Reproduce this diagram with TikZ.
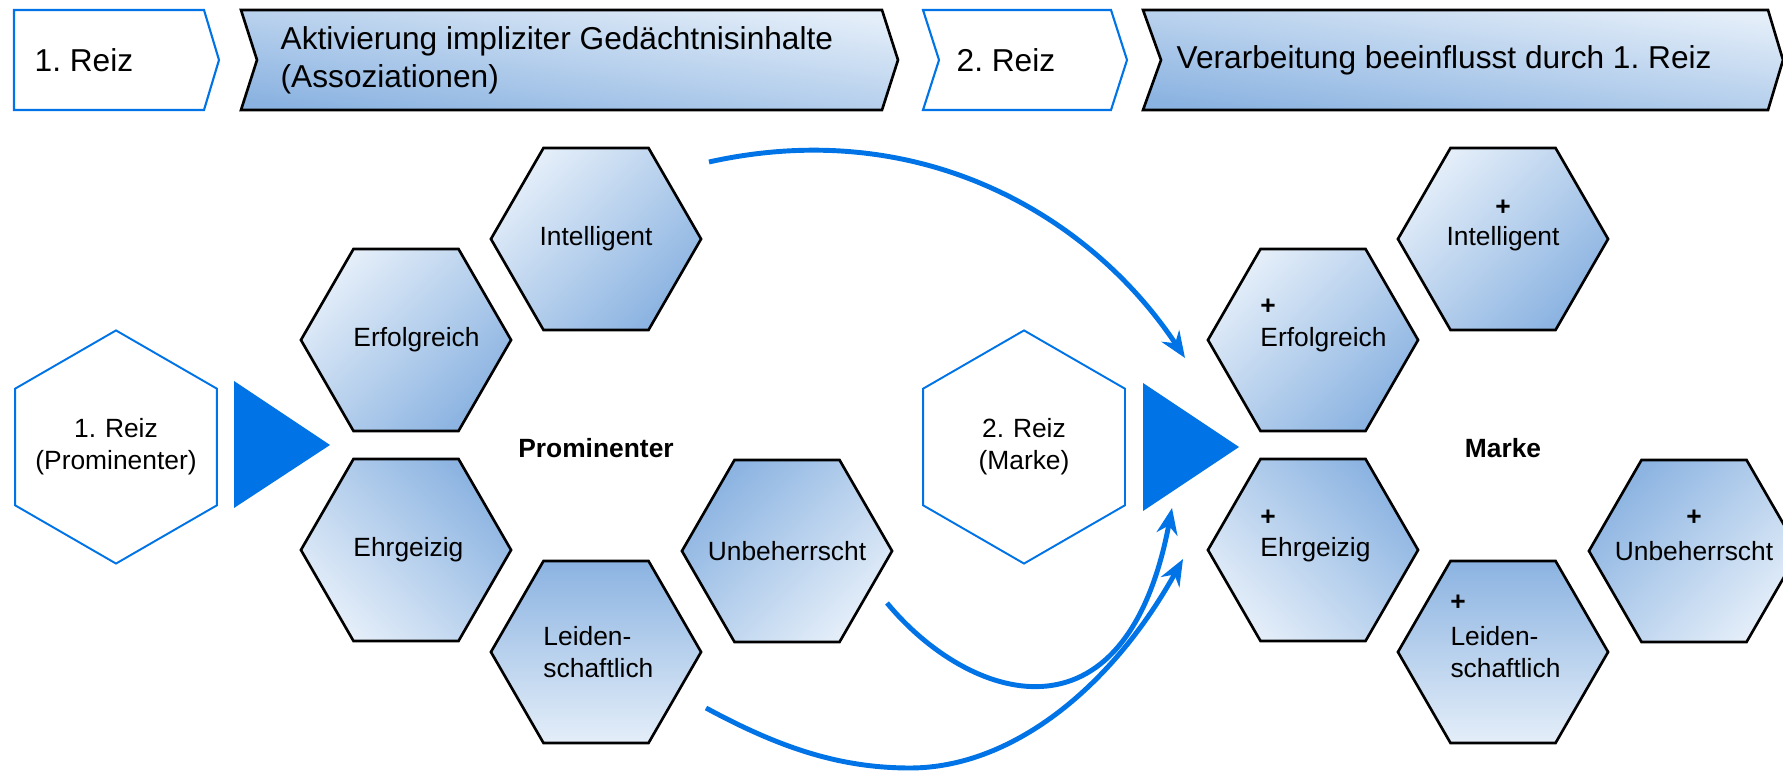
\documentclass[tikz,border=0pt]{standalone}
\usepackage{fontspec}
\setmainfont{Liberation Sans}
\usetikzlibrary{shapes.geometric,arrows.meta}
\frenchspacing

\definecolor{blau}{RGB}{0,115,230}
\definecolor{hell}{RGB}{228,238,249}
\definecolor{dunkel}{RGB}{139,179,225}

\tikzset{
  hexa/.style={regular polygon,regular polygon sides=6,minimum size=2.1cm,inner sep=0pt,
    draw=black,line width=0.75pt,font=\fontsize{7.5}{9}\selectfont,text width=1.05cm,align=left},
  reiz/.style={regular polygon,regular polygon sides=6,shape border rotate=90,minimum size=2.33cm,
    inner sep=0pt,draw=blau,line width=0.55pt,fill=white,font=\fontsize{7.5}{9}\selectfont,
    text width=1.05cm,align=center},
  hellob/.style={top color=hell,bottom color=dunkel,shading angle=#1},
  dunkelob/.style={top color=dunkel,bottom color=hell,shading angle=#1},
  plus/.style={inner sep=0pt,font=\bfseries\fontsize{7.5}{9}\selectfont},
  titel/.style={inner sep=0pt,font=\bfseries\fontsize{7.5}{9}\selectfont},
  kopf/.style={anchor=west,inner sep=0pt,align=left,font=\fontsize{9}{10.8}\selectfont},
  kopfblau/.style={draw=blau,line width=0.6pt,fill=white},
  kopfgrau/.style={draw=black,line width=0.75pt,top color=hell,bottom color=dunkel,shading angle=-8},
  pfeil/.style={draw=blau,line width=1.4pt,-{Stealth[length=7.5pt,width=6pt]}}
}
\newcommand{\mittig}[1]{\makebox[\linewidth]{#1}}

\begin{document}
\begin{tikzpicture}[x=0.01cm,y=-0.01cm]
\useasboundingbox (0,0) rectangle (1783,771);

\draw[kopfblau] (14,10) -- (204,10) -- (219,60) -- (204,110) -- (14,110) -- cycle;
\node[kopf] (k1) at (34,60) {1. Reiz};
\draw[kopfgrau] (241,10) -- (882,10) -- (898,60) -- (882,110) -- (241,110) -- (257,60) -- cycle;
\node[kopf] (k2) at (280,60) {Aktivierung impliziter Gedächtnisinhalte\\(Assoziationen)};
\draw[kopfblau] (923,10) -- (1111,10) -- (1127,60) -- (1111,110) -- (923,110) -- (939,60) -- cycle;
\node[kopf] (k3) at (956,60) {2. Reiz};
\draw[kopfgrau] (1143,10) -- (1768,10) -- (1783,60) -- (1768,110) -- (1143,110) -- (1161,60) -- cycle;
\node[kopf] (k4) at (1176,60) {Verarbeitung beeinflusst durch 1. Reiz};

\node[reiz] (r1) at (116,447) {1. Reiz\\\mittig{(Prominenter)}};
\fill[blau] (234,381) -- (330,445) -- (234,508) -- cycle;

\node[hexa,hellob=45] (p1) at (406,340) {Erfolgreich};
\node[hexa,hellob=45] (p2) at (596,239) {\mittig{Intelligent}};
\node[hexa,dunkelob=-45] (p3) at (406,550) {Ehrgeizig};
\node[hexa,dunkelob=0] (p4) at (596,652) {Leiden-\\schaftlich};
\node[hexa,dunkelob=45] (p5) at (787,551) {\mittig{Unbeherrscht}};
\node[titel] (pt) at (596,448) {Prominenter};

\node[reiz] (r2) at (1024,447) {2. Reiz\\(Marke)};
\fill[blau] (1143,383) -- (1239,447) -- (1143,511) -- cycle;

\node[hexa,hellob=45] (m1) at (1313,340) {Erfolgreich};
\node[hexa,hellob=45] (m2) at (1503,239) {\mittig{Intelligent}};
\node[hexa,dunkelob=-45] (m3) at (1313,550) {Ehrgeizig};
\node[hexa,dunkelob=0] (m4) at (1503,652) {Leiden-\\schaftlich};
\node[hexa,dunkelob=45] (m5) at (1694,551) {\mittig{Unbeherrscht}};
\node[titel] (mt) at (1503,448) {Marke};

\node[plus] (m1p) at ([shift={(-45,-33)}]m1.center) {+};
\node[plus] (m2p) at ([shift={(0,-31)}]m2.center) {+};
\node[plus] (m3p) at ([shift={(-45,-32)}]m3.center) {+};
\node[plus] (m4p) at ([shift={(-45,-49)}]m4.center) {+};
\node[plus] (m5p) at ([shift={(0,-33)}]m5.center) {+};

\coordinate (a1) at (709,162);
\coordinate (e1) at (1185,358);
\coordinate (a2) at (887,603);
\coordinate (e2) at (1172,508);
\coordinate (a3) at (706,708);
\coordinate (u3) at (910,768);
\coordinate (e3) at (1183,559);

\draw[pfeil] (a1) .. controls (920,115) and (1090,215) .. (e1);
\draw[pfeil] (a2) .. controls (967,700) and (1125,755) .. (e2);
\draw[pfeil] (a3) .. controls (780,748) and (840,768) .. (u3) .. controls (1010,768) and (1110,690) .. (e3);
\end{tikzpicture}
\end{document}
